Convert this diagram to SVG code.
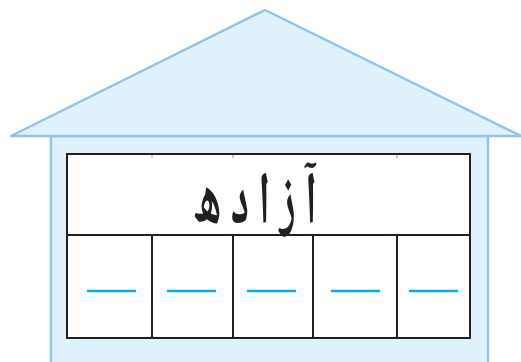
<svg xmlns="http://www.w3.org/2000/svg" width="521" height="362" viewBox="0 0 521 362">
<style>
.house{fill:#dff2fb;stroke:#93c4e8;stroke-width:2.5}
.grid{fill:#fff;stroke:#231f20;stroke-width:2}
.div{stroke:#231f20;stroke-width:2}
.tick{stroke:#9a9a9a;stroke-width:1}
.dash{stroke:#00aeef;stroke-width:2.5}
.word{font-family:"Noto Naskh Arabic","Noto Sans Arabic","DejaVu Sans",sans-serif;font-size:74px;font-weight:bold;fill:#231f20}
</style>
<g id="house">
<rect class="house" x="51" y="136" width="437" height="232"/>
<polygon class="house" points="265,10 11,136 521,136" stroke-linejoin="round"/>
</g>
<g id="table">
<rect class="grid" x="67" y="154" width="403" height="184"/>
<line class="div" x1="67" y1="235" x2="470" y2="235"/>
<line class="div" x1="152" y1="235" x2="152" y2="338"/>
<line class="div" x1="233" y1="235" x2="233" y2="338"/>
<line class="div" x1="313" y1="235" x2="313" y2="338"/>
<line class="div" x1="397" y1="235" x2="397" y2="338"/>
<line class="tick" x1="152" y1="155" x2="152" y2="158"/>
<line class="tick" x1="233" y1="155" x2="233" y2="158"/>
<line class="tick" x1="397" y1="155" x2="397" y2="158"/>
</g>
<g id="word">
<text class="word" transform="translate(255,223) scale(0.57,1)" x="0" y="0" text-anchor="middle" direction="rtl">آ ز ا د ه</text>
</g>
<g id="blanks">
<line class="dash" x1="87" y1="291" x2="136" y2="291"/>
<line class="dash" x1="167" y1="291" x2="216" y2="291"/>
<line class="dash" x1="247" y1="291" x2="296" y2="291"/>
<line class="dash" x1="331" y1="291" x2="380" y2="291"/>
<line class="dash" x1="409" y1="291" x2="458" y2="291"/>
</g>
</svg>
